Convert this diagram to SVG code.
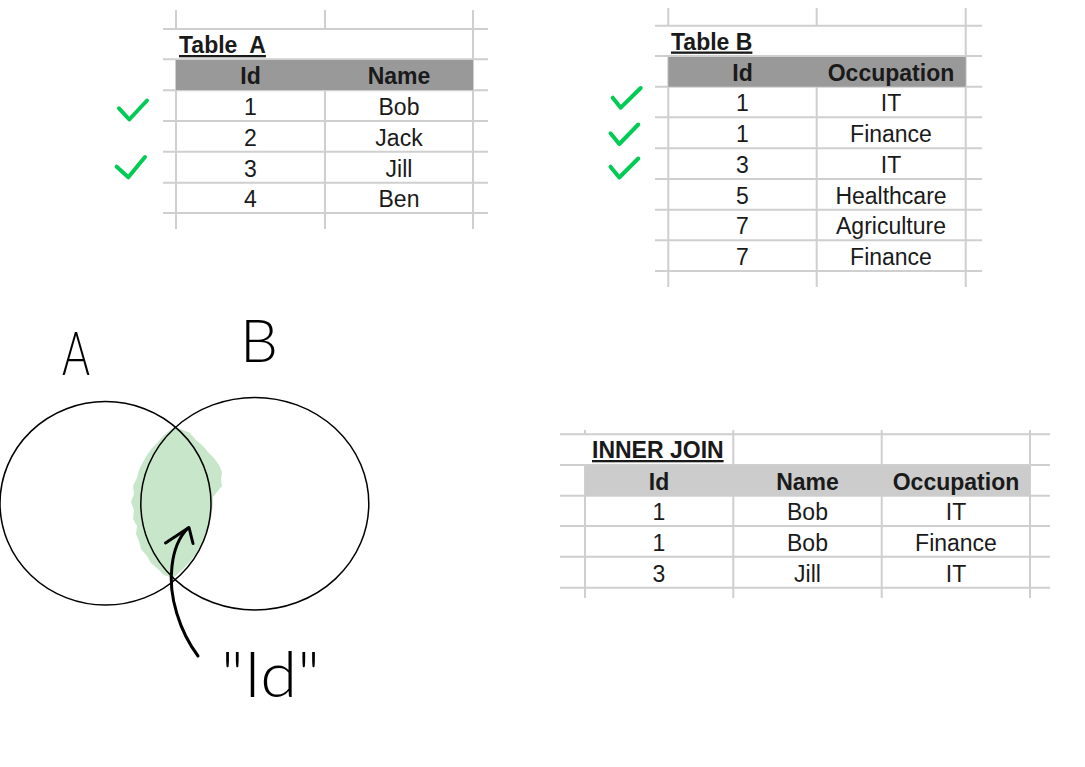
<svg xmlns="http://www.w3.org/2000/svg" width="1085" height="767" viewBox="0 0 1085 767">
<style>
.grid{stroke:#cfcfcf;stroke-width:2;fill:none}
.hdrA{fill:#999999}
.hdrC{fill:#cccccc}
.t{font-family:"Liberation Sans",Arial,sans-serif;font-size:23px;fill:#1a1a1a;text-anchor:middle}
.b{font-weight:bold}
.title{font-family:"Liberation Sans",Arial,sans-serif;font-size:23px;font-weight:bold;fill:#1a1a1a;text-decoration:underline}
.chk{stroke:#00cc55;stroke-width:4;fill:none;stroke-linecap:round;stroke-linejoin:round}
.hand{font-family:Lato,Roboto,"Liberation Sans",sans-serif;font-weight:300;fill:#000}
.circ{fill:none;stroke:#000;stroke-width:1.5}
.arrow{fill:none;stroke:#000;stroke-width:3;stroke-linecap:round;stroke-linejoin:round}
</style>
<rect width="1085" height="767" fill="#fff"/>

<g id="tableA">
  <path class="grid" d="M176,10V29M176,59.3V229M325,10V29M325,59.3V229M473,10V229M163,29H488M163,59.3H488M163,90.3H488M163,121H488M163,151.7H488M163,182.7H488M163,213H488"/>
  <rect class="hdrA" x="176" y="60" width="297" height="30"/>
  <text class="title" x="179" y="53" xml:space="preserve">Table  A</text>
  <text class="t b" x="250.5" y="84">Id</text>
  <text class="t b" x="399" y="84">Name</text>
  <text class="t" x="250.5" y="115">1</text><text class="t" x="399" y="115">Bob</text>
  <text class="t" x="250.5" y="145.7">2</text><text class="t" x="399" y="145.7">Jack</text>
  <text class="t" x="250.5" y="176.7">3</text><text class="t" x="399" y="176.7">Jill</text>
  <text class="t" x="250.5" y="207">4</text><text class="t" x="399" y="207">Ben</text>
  <path class="chk" d="M119,108.3L129.3,119.5L147,100.5"/>
  <path class="chk" d="M116.7,166.7L128.3,177.3L145,157"/>
</g>

<g id="tableB">
  <path class="grid" d="M668.3,8V25.7M668.3,56V287M816.7,8V25.7M816.7,56V287M965.7,8V287M655,25.7H982M655,56H982M655,86.7H982M655,117.3H982M655,148.3H982M655,179H982M655,209.7H982M655,240.3H982M655,271H982"/>
  <rect class="hdrA" x="668.3" y="57" width="297.4" height="29.7"/>
  <text class="title" x="671" y="49.5">Table B</text>
  <text class="t b" x="742.5" y="81">Id</text>
  <text class="t b" x="891" y="81">Occupation</text>
  <text class="t" x="742.5" y="111.3">1</text><text class="t" x="891" y="111.3">IT</text>
  <text class="t" x="742.5" y="142.3">1</text><text class="t" x="891" y="142.3">Finance</text>
  <text class="t" x="742.5" y="173">3</text><text class="t" x="891" y="173">IT</text>
  <text class="t" x="742.5" y="203.7">5</text><text class="t" x="891" y="203.7">Healthcare</text>
  <text class="t" x="742.5" y="234.3">7</text><text class="t" x="891" y="234.3">Agriculture</text>
  <text class="t" x="742.5" y="265">7</text><text class="t" x="891" y="265">Finance</text>
  <path class="chk" d="M612.7,97.7L620.7,107.7L640.7,88"/>
  <path class="chk" d="M610.5,133.3L619.3,144L638.3,124.5"/>
  <path class="chk" d="M610.5,166.7L619.3,177.5L638.3,158.5"/>
</g>

<g id="innerJoin">
  <path class="grid" d="M585,430V434.3M585,465V598M733.3,430V598M881.7,430V598M1030,430V598M560,434.3H1050M560,465H1050M560,495.7H1050M560,526H1050M560,556.7H1050M560,587.7H1050"/>
  <rect class="hdrC" x="585" y="466" width="445" height="29.7"/>
  <text class="title" x="592" y="458">INNER JOIN</text>
  <text class="t b" x="659" y="489.5">Id</text>
  <text class="t b" x="807.5" y="489.5">Name</text>
  <text class="t b" x="956" y="489.5">Occupation</text>
  <text class="t" x="659" y="520">1</text><text class="t" x="807.5" y="520">Bob</text><text class="t" x="956" y="520">IT</text>
  <text class="t" x="659" y="550.7">1</text><text class="t" x="807.5" y="550.7">Bob</text><text class="t" x="956" y="550.7">Finance</text>
  <text class="t" x="659" y="581.7">3</text><text class="t" x="807.5" y="581.7">Jill</text><text class="t" x="956" y="581.7">IT</text>
</g>

<g id="venn">
  <path fill="#c8e6c9" d="M175,427 L183,430 L190,433 L196,440 L203,446 L208,452 L214,458 L219,465 L222,472 L221,480 L222,486 L217,492 L213,497 A105.5,101.7 0 0 1 173,578 L164,575 L158,569 L151,563 L147,556 L141,549 L139,541 L136,534 L137,526 L133,519 L134,510 L131,502 L134,494 L133,486 L137,478 L139,470 L143,462 L147,455 L152,448 L158,442 L163,436 L169,431 Z"/>
  <ellipse class="circ" cx="105.5" cy="503.3" rx="105.5" ry="101.7"/>
  <ellipse class="circ" cx="254.8" cy="503.7" rx="114" ry="106.3"/>
  <text class="hand" x="62" y="375" font-size="62" textLength="28" lengthAdjust="spacingAndGlyphs">A</text>
  <text class="hand" x="240" y="362" font-size="60" textLength="38" lengthAdjust="spacingAndGlyphs">B</text>
  <text class="hand" x="221" y="697" font-size="64" textLength="99" lengthAdjust="spacingAndGlyphs">"Id"</text>
</g>

<g id="connectors">
  <path class="arrow" d="M198,656 C180,632 168,596 172,566 C174,548 180,536 188,528"/>
  <path class="arrow" d="M165.5,543 L189,527.5 L193,543.5"/>
</g>
</svg>
